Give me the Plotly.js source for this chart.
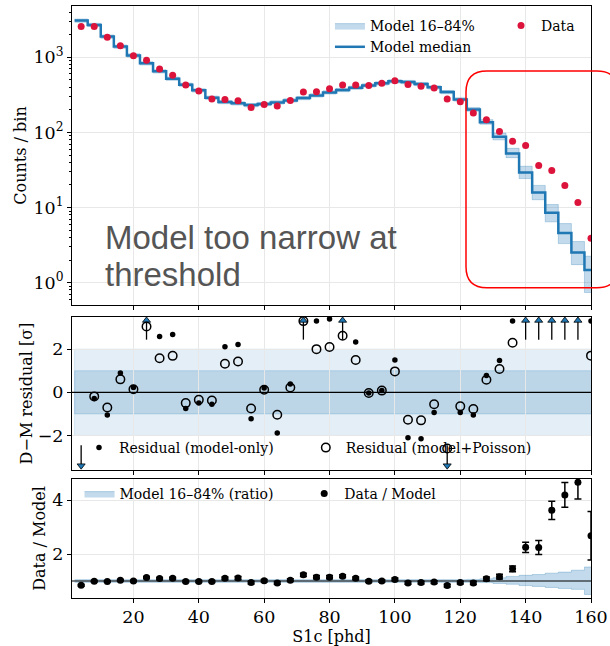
<!DOCTYPE html>
<html><head><meta charset="utf-8">
<script src="https://cdn.plot.ly/plotly-3.0.1.min.js"></script>
<style>html,body{margin:0;padding:0;background:#fff;} #chart{width:610px;height:646px;}</style>
</head><body><div id="chart"></div>
<script>
// ---------------- data ----------------
const binCenters = [4,8,12,16,20,24,28,32,36,40,44,48,52,56,60,64,68,72,76,80,84,88,92,96,100,104,108,112,116,120,124,128,132,136,140,144,148,152,156,160];
const binWidth = 4;
const dataCounts = [2570,2570,1850,1430,1050,912,699,575,428,356,278,275,264,215,236,224,267,345,349,382,428,428,423,450,489,433,411,390,278,256,182,147,103,76.5,67,36.4,31.2,19.7,11.7,3.9];
const modelMedian = [3080,2700,1890,1390,1060,832,651,520,432,363,290,254,244,231,239,251,267,287,311,341,367,394,423,450,479,469,441,398,345,275,202,137,87.5,52.5,29.3,15.9,8.5,4.6,2.52,1.48];
const bandRatioLo = [0.95,0.95,0.95,0.95,0.95,0.95,0.95,0.95,0.95,0.95,0.95,0.95,0.95,0.95,0.95,0.95,0.95,0.95,0.95,0.95,0.95,0.95,0.95,0.95,0.95,0.95,0.95,0.95,0.95,0.95,0.95,0.94,0.91,0.88,0.83,0.80,0.76,0.72,0.69,0.50];
const bandRatioHi = [1.05,1.05,1.05,1.05,1.05,1.05,1.05,1.05,1.05,1.05,1.05,1.05,1.05,1.05,1.05,1.05,1.05,1.05,1.05,1.05,1.05,1.05,1.05,1.05,1.05,1.05,1.05,1.05,1.05,1.05,1.06,1.08,1.12,1.17,1.21,1.24,1.29,1.33,1.40,1.52];
// residuals (null = off scale, shown as arrow)
const resModelOnly = [null,-0.29,-1.05,0.90,0.22,null,2.59,2.68,-0.75,-0.50,-0.55,2.11,2.22,-1.22,0.20,-1.88,0.38,null,3.30,3.40,null,2.33,-0.03,0.08,1.50,-2.10,-2.15,-0.93,null,-0.93,-1.05,0.78,1.47,3.30,null,null,null,null,null,3.30];
const resModelPoisson = [null,-0.19,-0.70,0.60,0.14,3.05,1.58,1.69,-0.50,-0.35,-0.38,1.32,1.43,-0.75,0.12,-1.04,0.22,3.30,2.00,2.10,2.62,1.50,-0.03,0.08,0.97,-1.27,-1.30,-0.55,-2.60,-0.65,-0.77,0.58,1.08,2.30,null,null,null,null,null,1.70];
const arrowUpBins = [24,72,84,140,144,148,152,156];
const arrowDownBins = [4,116];
const ratio = [0.84,0.99,0.98,1.03,1.00,1.13,1.09,1.10,0.98,0.98,0.98,1.10,1.11,0.94,1.01,0.93,1.03,1.23,1.14,1.14,1.18,1.10,0.99,1.00,1.06,0.93,0.94,0.96,0.83,0.94,0.93,1.08,1.16,1.45,2.25,2.24,3.62,4.19,4.66,2.68];
const ratioErr = [0.03,0.03,0.03,0.03,0.03,0.04,0.04,0.04,0.04,0.04,0.04,0.05,0.06,0.05,0.05,0.05,0.05,0.06,0.06,0.06,0.05,0.05,0.05,0.05,0.05,0.05,0.05,0.05,0.05,0.05,0.06,0.07,0.09,0.11,0.19,0.26,0.34,0.46,0.62,0.90];
const xTicks = [20,40,60,80,100,120,140,160];
const logTickVals = [1,10,100,1000];
const logTickText = ['10<sup>0</sup>','10<sup>1</sup>','10<sup>2</sup>','10<sup>3</sup>'];

// ---------------- helpers ----------------
const edges = binCenters.map(c => c - binWidth/2).concat([binCenters[binCenters.length-1] + binWidth/2]);
const stepY = arr => arr.concat([arr[arr.length-1]]);
const bandLo = modelMedian.map((m,i) => m*bandRatioLo[i]);
const bandHi = modelMedian.map((m,i) => m*bandRatioHi[i]);
const blue = '#1f77b4';
const bandFill = 'rgba(31,119,180,0.27)';
const bandEdge = 'rgba(31,119,180,0.35)';
const serif = 'DejaVu Serif';

const minorVals = [];
for (let d = -1; d <= 3; d++) for (let m = 2; m <= 9; m++) minorVals.push(m*Math.pow(10,d));

const arrowBase = 2.44, arrowTip = 3.33, arrowBaseDn = -2.45, arrowTipDn = -3.4;
const arrX = [], arrY = [];
arrowUpBins.forEach(b => { arrX.push(b,b,null); arrY.push(arrowBase,arrowTip,null); });
arrowDownBins.forEach(b => { arrX.push(b,b,null); arrY.push(arrowBaseDn,arrowTipDn,null); });

const xFull = [edges[0], edges[edges.length-1]];

const traces = [
  // top panel
  {x: edges, y: stepY(bandLo), xaxis:'x', yaxis:'y', mode:'lines', line:{shape:'hv', color:bandEdge, width:0.8}, showlegend:false, hoverinfo:'skip'},
  {x: edges, y: stepY(bandHi), xaxis:'x', yaxis:'y', mode:'lines', line:{shape:'hv', color:bandEdge, width:0.8}, fill:'tonexty', fillcolor:bandFill, name:'Model 16–84%', legend:'legend'},
  {x: edges, y: stepY(modelMedian), xaxis:'x', yaxis:'y', mode:'lines', line:{shape:'hv', color:blue, width:2.5}, name:'Model median', legend:'legend'},
  {x: binCenters, y: dataCounts, xaxis:'x', yaxis:'y', mode:'markers', marker:{color:'#dc143c', size:7}, name:'Data', legend:'legend2'},
  // middle panel: reference line at zero
  {x: [1.2,160], y: [0,0], xaxis:'x2', yaxis:'y2', mode:'lines', line:{color:'#000', width:1.2}, showlegend:false, hoverinfo:'skip'},
  {x: arrX, y: arrY, xaxis:'x2', yaxis:'y2', mode:'lines', line:{color:'#000', width:1.3}, showlegend:false, hoverinfo:'skip'},
  {x: arrowUpBins, y: arrowUpBins.map(() => arrowTip), xaxis:'x2', yaxis:'y2', mode:'markers', marker:{symbol:'triangle-up', size:7, color:blue, line:{color:'#000', width:0.8}}, showlegend:false},
  {x: arrowDownBins, y: arrowDownBins.map(() => arrowTipDn), xaxis:'x2', yaxis:'y2', mode:'markers', marker:{symbol:'triangle-down', size:7, color:blue, line:{color:'#000', width:0.8}}, showlegend:false},
  {x: binCenters, y: resModelOnly, xaxis:'x2', yaxis:'y2', mode:'markers', marker:{color:'#000', size:5.5}, name:'Residual (model-only)', legend:'legend3'},
  {x: binCenters, y: resModelPoisson, xaxis:'x2', yaxis:'y2', mode:'markers', marker:{color:'rgba(0,0,0,0)', size:8.5, line:{color:'#000', width:1.5}}, name:'Residual (model+Poisson)', legend:'legend4'},
  // bottom panel
  {x: edges, y: stepY(bandRatioLo), xaxis:'x3', yaxis:'y3', mode:'lines', line:{shape:'hv', color:bandEdge, width:0.8}, showlegend:false, hoverinfo:'skip'},
  {x: edges, y: stepY(bandRatioHi), xaxis:'x3', yaxis:'y3', mode:'lines', line:{shape:'hv', color:bandEdge, width:0.8}, fill:'tonexty', fillcolor:bandFill, name:'Model 16–84% (ratio)', legend:'legend5'},
  {x: [1.2,160], y: [1,1], xaxis:'x3', yaxis:'y3', mode:'lines', line:{color:'#000', width:1.2}, showlegend:false, hoverinfo:'skip'},
  {x: binCenters, y: ratio, xaxis:'x3', yaxis:'y3', mode:'markers', marker:{color:'#000', size:7},
   error_y:{type:'data', array: ratioErr, visible:true, color:'#000', thickness:1.5, width:3.5}, name:'Data / Model', legend:'legend6'}
];

const xBase = {range:[1.2,160], tickvals:xTicks, ticks:'outside', ticklen:4, tickcolor:'#000', showgrid:true, gridcolor:'#e8e8e8', gridwidth:1,
  showline:true, mirror:true, linecolor:'#000', linewidth:1, zeroline:false, tickfont:{family:serif, size:17.5, color:'#000'}};
const yBase = {ticks:'outside', ticklen:4, tickcolor:'#000', showgrid:true, gridcolor:'#e8e8e8', gridwidth:1,
  showline:true, mirror:true, linecolor:'#000', linewidth:1, zeroline:false, tickfont:{family:serif, size:17.5, color:'#000'}};

const P = (px) => (598 - px)/592; // pixel row -> paper y
const legendCommon = {bgcolor:'rgba(0,0,0,0)', borderwidth:0, font:{family:serif, size:14, color:'#000'}, xanchor:'left', traceorder:'normal'};

const rx = 21/519, ry = 21/592;
const bx0 = (466-72)/519, bx1 = (618-72)/519, by0 = P(287.7), by1 = P(71);
const boxPath = `M ${bx0+rx},${by1} L ${bx1-rx},${by1} Q ${bx1},${by1} ${bx1},${by1-ry} L ${bx1},${by0+ry} Q ${bx1},${by0} ${bx1-rx},${by0} L ${bx0+rx},${by0} Q ${bx0},${by0} ${bx0},${by0+ry} L ${bx0},${by1-ry} Q ${bx0},${by1} ${bx0+rx},${by1} Z`;
const noteFont = {family:'Liberation Sans', size:33, color:'#555'};

const layout = {
  width:610, height:646,
  margin:{l:72, r:19, t:6, b:48},
  paper_bgcolor:'#fff', plot_bgcolor:'#fff',
  font:{family:serif, color:'#000'},
  showlegend:true,
  xaxis: Object.assign({}, xBase, {anchor:'y', showticklabels:false}),
  xaxis2: Object.assign({}, xBase, {anchor:'y2', showticklabels:false, matches:'x'}),
  xaxis3: Object.assign({}, xBase, {anchor:'y3', matches:'x', ticklabelstandoff:-1, title:{text:'S1c [phd]', font:{family:serif, size:16}, standoff:3}}),
  yaxis: Object.assign({}, yBase, {domain:[P(305),1], type:'log', range:[-0.297,3.683], tickmode:'array', tickvals:logTickVals, ticktext:logTickText,
    minor:{tickmode:'array', tickvals:minorVals, ticks:'outside', ticklen:2.5, tickcolor:'#000', showgrid:false},
    title:{text:'Counts / bin', font:{family:serif, size:16}, standoff:2}}),
  yaxis2: Object.assign({}, yBase, {domain:[P(470),P(317)], range:[-3.6,3.49], tickvals:[-2,0,2],
    title:{text:'D−M residual [σ]', font:{family:serif, size:16}, standoff:1}}),
  yaxis3: Object.assign({}, yBase, {domain:[0,P(479)], range:[0.37,4.78], tickvals:[2,4],
    title:{text:'Data / Model', font:{family:serif, size:16}, standoff:2}}),
  legend: Object.assign({}, legendCommon, {x:0.497, y:P(10), yanchor:'top', tracegroupgap:0}),
  legend2: Object.assign({}, legendCommon, {x:0.8266, y:P(10), yanchor:'top'}),
  legend3: Object.assign({}, legendCommon, {x:0.0135, y:P(448), yanchor:'middle'}),
  legend4: Object.assign({}, legendCommon, {x:0.4505, y:P(448), yanchor:'middle'}),
  legend5: Object.assign({}, legendCommon, {x:0.0145, y:P(494), yanchor:'middle'}),
  legend6: Object.assign({}, legendCommon, {x:0.4474, y:P(494), yanchor:'middle'}),
  shapes: [
    {type:'rect', xref:'x2', yref:'y2', x0:xFull[0], x1:xFull[1], y0:-2, y1:2, fillcolor:'rgba(31,119,180,0.12)', line:{color:'rgba(31,119,180,0.15)', width:1}, layer:'below'},
    {type:'rect', xref:'x2', yref:'y2', x0:xFull[0], x1:xFull[1], y0:-1, y1:1, fillcolor:'rgba(31,119,180,0.2)', line:{color:'rgba(31,119,180,0.2)', width:1}, layer:'below'},
    {type:'path', xref:'paper', yref:'paper', path:boxPath, line:{color:'#ff0000', width:1.5}, fillcolor:'rgba(0,0,0,0)', layer:'above'}
  ],
  annotations: [
    {xref:'paper', yref:'paper', x:(103-72)/519, y:P(237), xanchor:'left', yanchor:'middle', align:'left', showarrow:false,
     text:'Model too narrow at', font:noteFont},
    {xref:'paper', yref:'paper', x:(103-72)/519, y:P(274), xanchor:'left', yanchor:'middle', align:'left', showarrow:false,
     text:'threshold', font:noteFont}
  ]
};

Plotly.newPlot('chart', traces, layout, {displayModeBar:false, staticPlot:true});
</script>
</body></html>
